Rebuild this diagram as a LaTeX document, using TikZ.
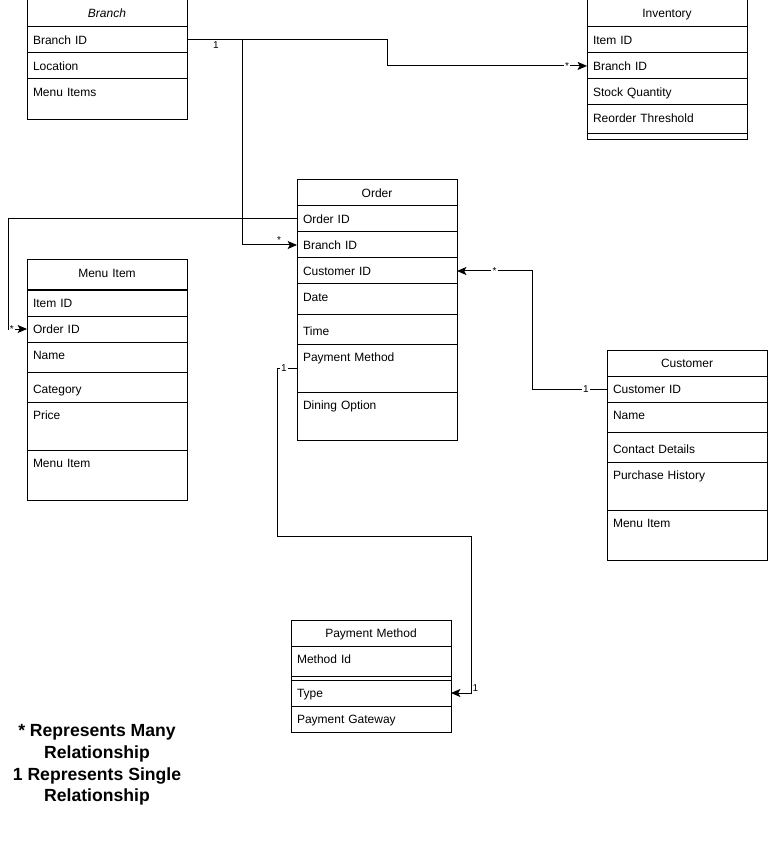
\documentclass[tikz,border=0pt]{standalone}
\usepackage{fontspec}
\setmainfont{Liberation Sans}
\usepackage{tikz}
\usetikzlibrary{positioning,arrows.meta}
\tikzset{every picture/.style={line width=0.75pt}}
\tikzset{
  head/.style={draw,anchor=north west,outer sep=0pt,inner xsep=4.5pt,inner ysep=0pt,text width=111pt,align=center,text height=13.1pt,text depth=#1,font=\fontsize{9pt}{11pt}\selectfont},
  head/.default=6.4pt,
  attr/.style={head=#1,align=left},
  attr/.default=6.4pt,
  mid/.style={text height=16.1pt,text depth=6.4pt},
  gap/.style={draw,anchor=north west,outer sep=0pt,inner sep=0pt,minimum width=120pt,minimum height=#1},
  rel/.style={-{Stealth[length=7pt,width=6pt,inset=1.5pt]}},
  card/.style={font=\fontsize{7.5pt}{8pt}\selectfont,inner sep=0.8pt,fill=white},
  legend/.style={align=center,font=\bfseries\fontsize{13.2pt}{16.3pt}\selectfont}
}

\begin{document}
\begin{tikzpicture}[x=0.75pt,y=0.75pt,yscale=-1,xscale=1]
\useasboundingbox (0,0) rectangle (768,841);
% Branch
\node[head=7.1pt] (brH) at (27,0) {\itshape Branch};
\node[attr,below=0pt of brH] (brID) {Branch ID};
\node[attr,below=0pt of brID] (brLoc) {Location};
\node[attr=17.6pt,below=0pt of brLoc] (brMenu) {Menu Items};
% Inventory
\node[head=7.1pt] (invH) at (587,0) {Inventory};
\node[attr,below=0pt of invH] (invItem) {Item ID};
\node[attr,below=0pt of invItem] (invBr) {Branch ID};
\node[attr,below=0pt of invBr] (invQty) {Stock Quantity};
\node[attr=8.6pt,below=0pt of invQty] (invReo) {Reorder Threshold};
\node[gap=4.5pt,below=0pt of invReo] (invEnd) {};
% Order
\node[head] (ordH) at (297,180) {Order};
\node[attr,below=0pt of ordH] (ordID) {Order ID};
\node[attr,below=0pt of ordID] (ordBr) {Branch ID};
\node[attr,below=0pt of ordBr] (ordCu) {Customer ID};
\node[attr=9.4pt,below=0pt of ordCu] (ordDate) {Date};
\node[attr,mid,below=0pt of ordDate] (ordTime) {Time};
\node[attr=22.9pt,below=0pt of ordTime] (ordPay) {Payment Method};
\node[attr=23.6pt,below=0pt of ordPay] (ordDin) {Dining Option};
% Menu Item
\node[head=9.4pt] (miH) at (27,260) {Menu Item};
\node[attr,below=0pt of miH] (miItem) {Item ID};
\node[attr,below=0pt of miItem] (miOrd) {Order ID};
\node[attr=9.4pt,below=0pt of miOrd] (miName) {Name};
\node[attr,mid,below=0pt of miName] (miCat) {Category};
\node[attr=22.9pt,below=0pt of miCat] (miPrice) {Price};
\node[attr=24.4pt,below=0pt of miPrice] (miMenu) {Menu Item};
% Customer
\node[head] (cuH) at (607,350) {Customer};
\node[attr,below=0pt of cuH] (cuID) {Customer ID};
\node[attr=9.4pt,below=0pt of cuID] (cuName) {Name};
\node[attr,mid,below=0pt of cuName] (cuCont) {Contact Details};
\node[attr=22.9pt,below=0pt of cuCont] (cuHist) {Purchase History};
\node[attr=24.4pt,below=0pt of cuHist] (cuMenu) {Menu Item};
% Payment Method
\node[head] (pmH) at (291,620) {Payment Method};
\node[attr=9.4pt,below=0pt of pmH] (pmID) {Method Id};
\node[gap=3pt,below=0pt of pmID] (pmSep) {};
\node[attr,below=0pt of pmSep] (pmType) {Type};
\node[attr,below=0pt of pmType] (pmGate) {Payment Gateway};
% relations
\draw[rel] (brID.east) -- ++(200,0) node[card,pos=0.145,anchor=north,fill=none] {1} |- (invBr.west) node[card,pos=0.95] {*};
\path (brID.east) ++(55,0) coordinate (brJ);
\draw[rel] (brJ) |- (ordBr.west) node[card,pos=0.836,anchor=south,fill=none] {*};
\draw[rel] (ordID.west) -- ++(-289,0) |- (miOrd.west) node[card,pos=0.6] {*};
\draw[rel] (cuID.west) -- ++(-75,0) node[card,pos=0.28] {1} |- (ordCu.east) node[card,pos=0.75] {*};
\draw[rel] (ordPay.west) -- ++(-20,0) node[card,pos=0.65] {1} -- ++(0,168) -- ++(194,0) |- (pmType.east) node[card,pos=0.5,anchor=south west,fill=none] {1};
\node[legend] (key) at (97,765) {* Represents Many\\Relationship\\1 Represents Single\\Relationship};
\end{tikzpicture}
\end{document}
